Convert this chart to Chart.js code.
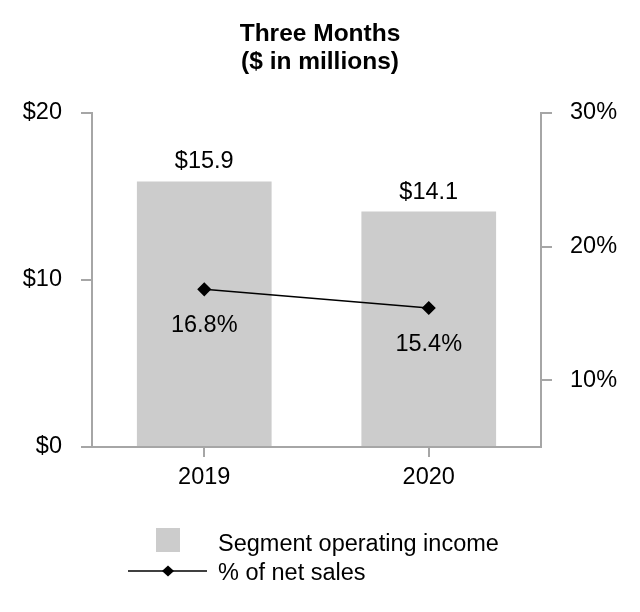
<!DOCTYPE html>
<html>
<head>
<meta charset="utf-8">
<script src="https://cdn.jsdelivr.net/npm/chart.js@4.4.1/dist/chart.umd.min.js"></script>
<style>
  html, body { margin: 0; padding: 0; background: #fff; }
  #wrap { width: 640px; height: 612px; }
</style>
</head>
<body>
<div id="wrap"><canvas id="chart" width="640" height="612"></canvas></div>
<script>
const years = ["2019", "2020"];
const operatingIncome = [15.9, 14.1];
const pctOfSales = [16.8, 15.4];
const leftTicks = [0, 10, 20];
const rightTicks = [10, 20, 30];
const titleLines = ["Three Months", "($ in millions)"];
const seriesNames = ["Segment operating income", "% of net sales"];

const FONT = "'Liberation Sans', Arial, sans-serif";
const AXIS_GREY = "#a6a6a6";
const BAR_GREY = "#cccccc";
const FS = 23.5;

// titles, data labels and the legend
const annotate = {
  id: "annotate",
  afterDraw(chart) {
    const ctx = chart.ctx;
    ctx.save();
    ctx.fillStyle = "#000";
    ctx.textAlign = "center";
    ctx.textBaseline = "alphabetic";
    ctx.font = "bold 24.5px " + FONT;
    ctx.fillText(titleLines[0], 320, 41);
    ctx.fillText(titleLines[1], 320, 69);

    ctx.font = FS + "px " + FONT;
    chart.getDatasetMeta(0).data.forEach((bar, i) => {
      ctx.fillText("$" + operatingIncome[i].toFixed(1), bar.x, bar.y - 13);
    });
    chart.getDatasetMeta(1).data.forEach((pt, i) => {
      ctx.fillText(pctOfSales[i].toFixed(1) + "%", pt.x, pt.y + 43);
    });

    // legend
    ctx.fillStyle = BAR_GREY;
    ctx.fillRect(156, 528, 24, 24);
    ctx.strokeStyle = "#000";
    ctx.lineWidth = 1.5;
    ctx.beginPath();
    ctx.moveTo(128, 571);
    ctx.lineTo(207, 571);
    ctx.stroke();
    ctx.fillStyle = "#000";
    ctx.beginPath();
    ctx.moveTo(168, 565.5);
    ctx.lineTo(174, 571);
    ctx.lineTo(168, 576.5);
    ctx.lineTo(162, 571);
    ctx.closePath();
    ctx.fill();
    ctx.textAlign = "left";
    ctx.fillText(seriesNames[0], 218, 551);
    ctx.fillText(seriesNames[1], 218, 580);
    ctx.restore();
  }
};

new Chart(document.getElementById("chart"), {
  data: {
    labels: years,
    datasets: [
      {
        type: "bar",
        label: seriesNames[0],
        data: operatingIncome,
        backgroundColor: BAR_GREY,
        barPercentage: 0.6,
        categoryPercentage: 1,
        yAxisID: "y",
        order: 2
      },
      {
        type: "line",
        label: seriesNames[1],
        data: pctOfSales,
        borderColor: "#000",
        borderWidth: 1.5,
        backgroundColor: "#000",
        pointStyle: "rectRot",
        pointRadius: 6,
        pointHoverRadius: 6,
        yAxisID: "y1",
        order: 1
      }
    ]
  },
  options: {
    responsive: false,
    animation: false,
    layout: { padding: { top: 113, left: 0, right: 0, bottom: 0 } },
    plugins: {
      legend: { display: false },
      title: { display: false },
      tooltip: { enabled: false }
    },
    scales: {
      x: {
        grid: { display: true, offset: false, drawOnChartArea: false, drawTicks: true, tickLength: 10, color: AXIS_GREY, lineWidth: 2 },
        border: { color: AXIS_GREY, width: 2 },
        ticks: { color: "#000", font: { family: FONT, size: FS }, padding: 6 },
        afterFit(s) { s.height = 165; }
      },
      y: {
        position: "left",
        min: 0,
        max: 20,
        afterBuildTicks(s) { s.ticks = leftTicks.map(v => ({ value: v })); },
        grid: { drawOnChartArea: false, drawTicks: true, tickLength: 11, color: AXIS_GREY, lineWidth: 2 },
        border: { color: AXIS_GREY, width: 2 },
        ticks: {
          color: "#000",
          font: { family: FONT, size: FS },
          padding: 19,
          callback: v => "$" + v
        },
        afterFit(s) { s.width = 92; }
      },
      y1: {
        position: "right",
        min: 5,
        max: 30,
        afterBuildTicks(s) { s.ticks = rightTicks.map(v => ({ value: v })); },
        grid: { drawOnChartArea: false, drawTicks: true, tickLength: 11, color: AXIS_GREY, lineWidth: 2 },
        border: { color: AXIS_GREY, width: 2 },
        ticks: {
          color: "#000",
          font: { family: FONT, size: FS },
          padding: 18,
          callback: v => v + "%"
        },
        afterFit(s) { s.width = 99; }
      }
    }
  },
  plugins: [annotate]
});
</script>
</body>
</html>
